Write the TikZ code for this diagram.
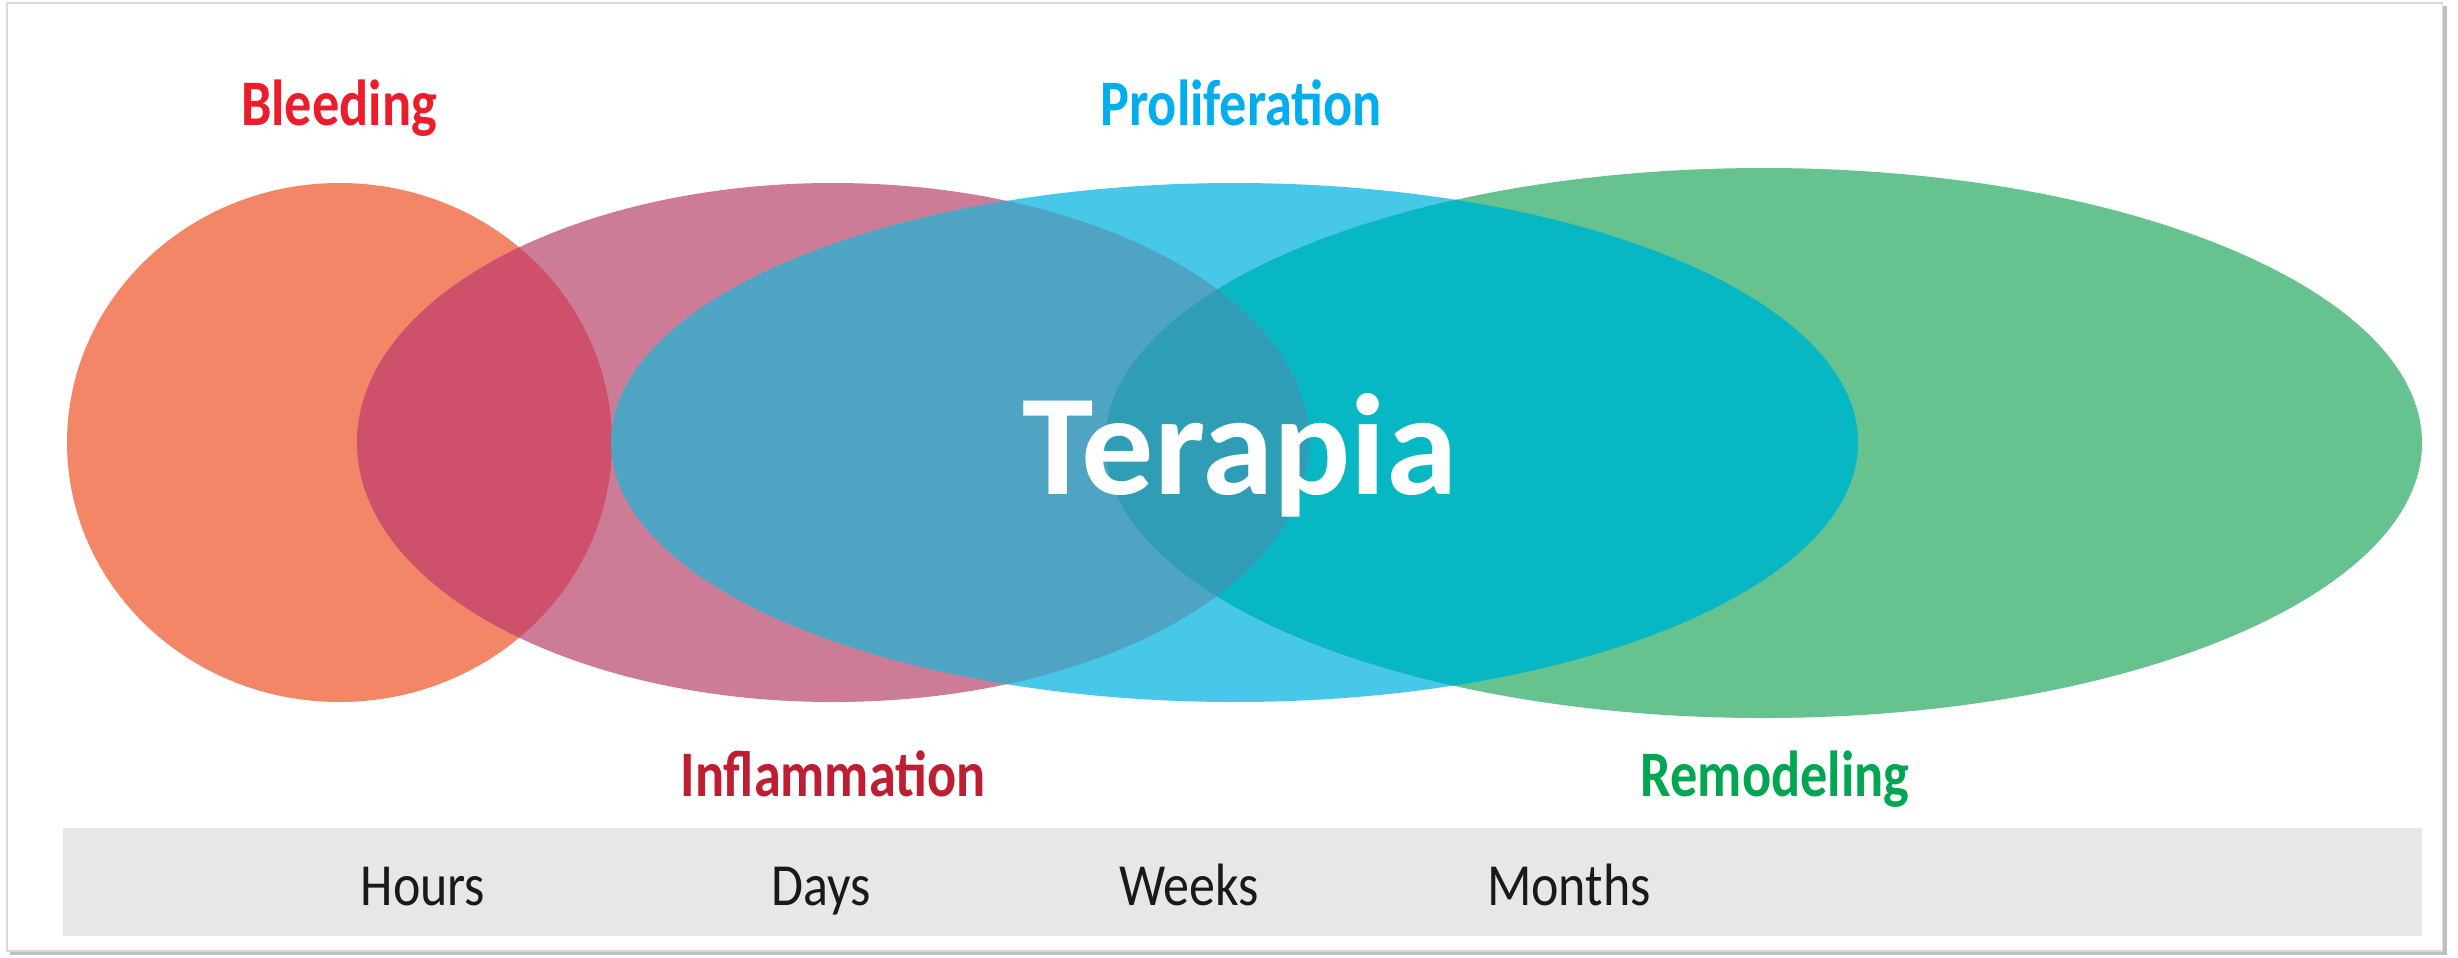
\documentclass[tikz,border=0pt]{standalone}
\usepackage{fontspec}
\setmainfont{Carlito}
\newfontfamily\condfont[FakeStretch=0.835]{Carlito}
\newfontfamily\timefont[FakeStretch=0.87]{Carlito}
\usetikzlibrary{positioning}
\definecolor{bleedcol}{HTML}{F48668}
\definecolor{inflcol}{HTML}{CC7C96}
\definecolor{prolcol}{HTML}{48C8E8}
\definecolor{remocol}{HTML}{66C28E}
\definecolor{bicol}{HTML}{CE506A}
\definecolor{ipcol}{HTML}{4FA3C3}
\definecolor{prcol}{HTML}{07B7C3}
\definecolor{iprcol}{HTML}{2F9DB6}
\definecolor{bleedtxt}{HTML}{EC1C2A}
\definecolor{infltxt}{HTML}{BE1E32}
\definecolor{proltxt}{HTML}{00AEEF}
\definecolor{remotxt}{HTML}{00A651}
\definecolor{barcol}{HTML}{E7E7E7}
\tikzset{
    phase/.style={font=\condfont\bfseries\fontsize{18.5}{20}\selectfont, anchor=base, inner sep=0pt},
    period/.style={font=\timefont\fontsize{17}{19}\selectfont, text=black!90, anchor=base, inner sep=0pt},
}
\newcommand{\bleedpath}{(339.5,442.5) ellipse [x radius=272.5, y radius=259.5]}
\newcommand{\inflpath}{(833,442.5) ellipse [x radius=476, y radius=259.5]}
\newcommand{\prolpath}{(1234.5,442.5) ellipse [x radius=623.5, y radius=259.5]}
\newcommand{\remopath}{(1763.5,443) ellipse [x radius=658.5, y radius=275]}

\begin{document}
\begin{tikzpicture}[x=0.1mm,y=-0.1mm]
   \useasboundingbox (0,0) rectangle (2458,957);
   % frame with shadow
   \fill[black!25] (10,6) rectangle (2447,955);
   \fill[white] (7,3) rectangle (2442,951);
   \draw[black!15, line width=0.3pt] (7,3) rectangle (2442,951);
   % time bar
   \fill[barcol] (63,828) rectangle (2422,936);
   % the four phases
   \fill[bleedcol] \bleedpath;
   \fill[inflcol] \inflpath;
   \fill[prolcol] \prolpath;
   \fill[remocol] \remopath;
   % overlaps
   \begin{scope}
      \clip \bleedpath;
      \fill[bicol] \inflpath;
   \end{scope}
   \begin{scope}
      \clip \remopath;
      \fill[prcol] \prolpath;
   \end{scope}
   \begin{scope}
      \clip \inflpath;
      \fill[ipcol] \prolpath;
   \end{scope}
   \begin{scope}
      \clip \inflpath;
      \clip \remopath;
      \fill[iprcol] \prolpath;
   \end{scope}
   % labels
   \node[phase, text=bleedtxt] (bleeding) at (339,125) {Bleeding};
   \node[phase, text=proltxt] (proliferation) at (1241,125) {Proliferation};
   \node[phase, text=infltxt] (inflammation) at (833,796) {Inflammation};
   \node[phase, text=remotxt] (remodeling) at (1775,796) {Remodeling};
   \node[font=\bfseries\fontsize{41}{44}\selectfont, text=white, anchor=base, inner sep=0pt] (terapia) at (1240,494) {Terapia};
   \node[period] (hours) at (423,905) {Hours};
   \node[period] (days) at (821,905) {Days};
   \node[period] (weeks) at (1189,905) {Weeks};
   \node[period] (months) at (1569,905) {Months};
\end{tikzpicture}
\end{document}
